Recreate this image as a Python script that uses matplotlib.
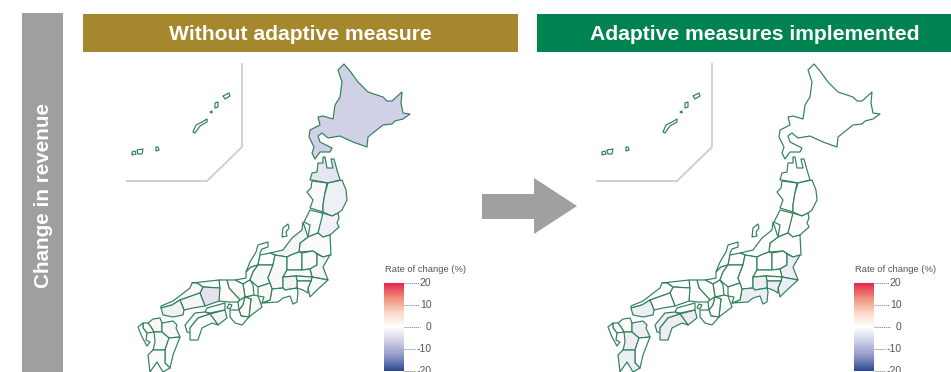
import numpy as np
import matplotlib
matplotlib.use("Agg")
import matplotlib.pyplot as plt
from matplotlib.colors import LinearSegmentedColormap

# outlines, in picture pixels
hokkaido = [(344,64),(350,71),(358,82),(368,92),(383,97),(387,101),(392,101),(402,92),(401,103),(403,113),(410,114),(403,119),(395,121),(392,124),(383,125),(368,137),(367,147),(353,142),(340,136),(328,138),(322,133),(318,136),(320,142),(332,148),(330,152),(320,152),(315,159),(312,153),(314,147),(309,137),(310,130),(320,125),(318,117),(323,116),(333,119),(335,105),(340,97),(342,82),(338,70)]
aomori = [(310,180),(312,173),(317,172),(318,163),(323,163),(323,157),(325,157),(327,168),(333,168),(331,159),(334,159),(337,170),(340,180),(328,183),(312,180)]
akita = [(312,181),(327,183),(325,193),(323,205),(323,212),(310,208),(313,200),(307,192),(311,188)]
iwate = [(328,183),(342,180),(346,190),(347,200),(342,210),(338,213),(332,216),(323,212),(323,205),(325,193)]
yamagata = [(310,210),(322,213),(323,217),(318,233),(308,237),(310,225),(304,222)]
miyagi = [(323,213),(332,216),(338,213),(339,218),(337,223),(339,227),(330,235),(323,237),(318,233)]
fukushima = [(308,237),(318,233),(323,237),(330,235),(331,255),(323,257),(313,251),(299,252),(300,243)]
niigata = [(303,222),(305,228),(308,237),(300,243),(299,252),(291,255),(287,257),(275,255),(270,253),(283,250),(292,238),(302,230)]
sado = [(283,228),(288,224),(289,228),(286,232),(287,236),(282,237)]
ishikawa = [(268,242),(268,247),(262,249),(260,253),(260,255),(258,265),(251,267),(246,272),(250,262),(256,252),(258,245)]
toyama = [(260,255),(270,253),(275,255),(273,265),(258,265)]
fukui = [(246,272),(251,267),(258,265),(253,272),(250,280),(243,284),(235,280),(241,279),(246,278)]
gifu = [(258,265),(273,265),(268,278),(270,283),(258,287),(250,280),(253,272)]
nagano = [(275,255),(287,257),(287,270),(283,277),(283,288),(272,289),(270,283),(268,278),(273,265)]
gunma = [(287,257),(291,255),(299,252),(302,253),(302,270),(287,270)]
tochigi = [(302,253),(313,251),(317,254),(317,265),(310,269),(302,270)]
ibaraki = [(317,254),(323,257),(330,255),(323,267),(328,280),(312,277),(310,269),(317,265)]
chiba = [(312,277),(328,280),(317,290),(310,297),(308,288),(311,281)]
saitama = [(287,270),(302,270),(310,269),(312,277),(296,276),(283,277)]
tokyo = [(296,276),(312,277),(311,281),(297,281)]
kanagawa = [(297,281),(311,281),(308,288),(308,293),(303,290),(297,288)]
yamanashi = [(283,277),(296,276),(297,281),(297,288),(285,290),(283,288)]
shizuoka = [(270,300),(272,289),(283,288),(285,290),(297,288),(298,292),(297,302),(293,304),(290,296),(283,298),(278,302),(262,303)]
aichi = [(258,287),(270,283),(272,289),(270,300),(262,303),(264,297),(258,296)]
mie = [(245,297),(254,295),(258,296),(262,307),(249,317),(250,307),(251,299)]
shiga = [(243,284),(250,280),(253,285),(254,295),(245,297)]
kyoto = [(227,280),(235,280),(243,284),(245,297),(240,300),(229,288)]
hyogo = [(219,280),(227,280),(229,288),(240,300),(238,302),(228,302),(219,301)]
osaka = [(238,302),(240,300),(245,297),(243,305),(239,310)]
nara = [(245,297),(251,299),(250,307),(249,317),(241,316),(239,310),(243,305)]
wakayama = [(230,310),(239,310),(241,316),(249,317),(242,325),(235,323),(230,317)]
awaji = [(229,304),(232,305),(230,309),(227,308)]
tottori = [(192,283),(219,280),(220,288),(203,287),(197,283)]
okayama = [(203,287),(220,288),(219,301),(205,306),(200,293)]
shimane = [(161,306),(173,301),(190,288),(192,283),(197,283),(203,287),(200,293),(180,300),(172,305),(161,308)]
hiroshima = [(180,300),(200,293),(205,306),(193,308),(184,310)]
yamaguchi = [(161,308),(172,305),(180,300),(184,310),(183,315),(173,317),(163,315)]
kagawa = [(207,308),(225,303),(225,310),(210,313),(205,312)]
tokushima = [(210,314),(225,310),(227,318),(218,325),(213,318)]
ehime = [(185,325),(195,313),(205,312),(210,314),(198,318),(190,328),(192,333),(187,332)]
kochi = [(190,328),(198,318),(210,314),(213,318),(218,325),(212,323),(202,328),(198,340),(190,340)]
fukuoka = [(148,323),(153,319),(160,318),(162,323),(162,332),(154,332),(151,327)]
oita = [(162,323),(173,321),(177,325),(176,328),(180,337),(169,338),(162,332)]
saga = [(143,323),(148,323),(151,327),(154,332),(147,333),(143,328)]
nagasaki = [(138,327),(143,323),(143,328),(147,333),(146,340),(150,342),(147,346),(142,337)]
kumamoto = [(154,332),(162,332),(169,338),(165,350),(153,350),(155,342)]
miyazaki = [(169,338),(180,337),(173,355),(170,368),(165,363),(165,350)]
kagoshima = [(153,350),(165,350),(165,363),(170,368),(163,372),(160,367),(157,362),(150,372),(148,355)]
amami_a = [(223,96),(229,93),(230,96),(225,99)]
amami_b = [(215,103),(218,102),(218,107),(215,108)]
amami_c = [(210,112),(212,111),(212,113)]
okinawa = [(193,132),(196,125),(202,122),(207,119),(207,122),(200,126),(195,133)]
saki_a = [(132,152),(135,151),(136,154),(132,155)]
saki_b = [(137,150),(143,149),(142,154),(138,154)]
saki_c = [(156,147),(158,147),(159,150),(156,151)]

regions = [hokkaido, aomori, akita, iwate, yamagata, miyagi, fukushima, niigata, sado,
           ishikawa, toyama, fukui, gifu, nagano, gunma, tochigi, ibaraki, chiba, saitama,
           tokyo, kanagawa, yamanashi, shizuoka, aichi, mie, shiga, kyoto, hyogo, osaka,
           nara, wakayama, awaji, tottori, okayama, shimane, hiroshima, yamaguchi, kagawa,
           tokushima, ehime, kochi, fukuoka, oita, saga, nagasaki, kumamoto, miyazaki,
           kagoshima, amami_a, amami_b, amami_c, okinawa, saki_a, saki_b, saki_c]

# rate of change per region, same order as regions
without_measure = [-6.5, -3.5, -0.8, -2.2, -0.5, -2.0, -0.5, -1.5, 0,
                   0, 0, 0, -1, -1, -0.5, -0.5, -1.5, -1, -1,
                   -1, 0, -2, 0, 1, 1, 0, 1, 0.5, 0,
                   0, 0, 0, -0.5, -4, -1, -1.5, -2, -1,
                   -1.5, -0.5, 0, 1.5, -1, 0, 0, -1, 0,
                   -0.5, 0, 0, 0, 0, 0, 0, 0]
with_measure = [0, 0, 0, 0, 0, 0, 0, 0, 0,
                0, 0, 0, 0, 0, 0, 0, -2.5, -2.5, 0,
                0, -2.5, -2.5, -2.5, 0, 0, 0, 0, 0, 0,
                0, 0, 0, 0, 0, 0, 0, -2.5, 0,
                -2.5, -2.5, -2.5, 0.7, -2.5, 0, 0, -2.5, 0,
                -2.5, 0, 0, 0, 0, 0, 0, 0]

tick_values = [20, 10, 0, -10, -20]
headers = ["Without adaptive measure", "Adaptive measures implemented"]
side_label = "Change in revenue"
legend_title = "Rate of change (%)"

plt.rcParams["font.family"] = ["Liberation Sans", "DejaVu Sans"]

cmap = LinearSegmentedColormap.from_list(
    "rate", ["#2d4a96", "#8f97c6", "#cfcfe6", "#ffffff", "#fbd9c8", "#ef8f78", "#e8264f"],
    N=256)
norm = plt.Normalize(-20, 20)

fig = plt.figure(figsize=(9.51, 3.72), dpi=100)
ax = fig.add_axes([0, 0, 1, 1])
ax.set_xlim(0, 951)
ax.set_ylim(372, 0)
ax.axis("off")

# side bar, banners, arrow
ax.fill([22, 63, 63, 22], [13, 13, 372, 372], color="#9e9f9f", lw=0)
ax.text(43.5, 195, side_label, rotation=90, ha="center", va="center", color="white",
        fontsize=14.9, fontweight="bold")
ax.fill([83, 518, 518, 83], [14, 14, 52, 52], color="#a5882d", lw=0)
ax.fill([537, 951, 951, 537], [14, 14, 52, 52], color="#008350", lw=0)
ax.text(300.5, 34, headers[0], ha="center", va="center", color="white", fontsize=15.2, fontweight="bold")
ax.text(754.5, 34, headers[1], ha="center", va="center", color="white", fontsize=15.2, fontweight="bold")
ax.fill([482, 534, 534, 577, 534, 534, 482], [194, 194, 178, 206, 234, 219, 219], color="#a0a19f", lw=0)


def draw_map(values, dx):
    # inset frame for the southern islands
    ax.plot([242+dx, 242+dx, 207+dx, 127+dx], [64, 147, 181, 181], color="#cccccc", lw=1.3)
    for poly, v in zip(regions, values):
        xs = [p[0]+dx for p in poly]
        ys = [p[1] for p in poly]
        ax.fill(xs, ys, facecolor=cmap(norm(v)), edgecolor="#2f7f5a", lw=0.85, joinstyle="round")

    # colour scale
    grad = np.linspace(20, -20, 200).reshape(-1, 1)
    ax.imshow(grad, cmap=cmap, norm=norm, extent=[384+dx, 404+dx, 371, 283], aspect="auto", zorder=2)
    ax.set_xlim(0, 951)
    ax.set_ylim(372, 0)
    ax.text(385+dx, 269, legend_title, ha="left", va="center", color="#555555", fontsize=6.75)
    for t in tick_values:
        y = 327 - t*2.2
        ax.plot([404+dx, 420+dx], [y, y], color="#777777", lw=0.7, ls=(0, (1, 1)))
        ax.text(431.5+dx, y, str(t), ha="right", va="center", color="#555555", fontsize=7.5,
                clip_on=True, bbox=dict(facecolor="white", edgecolor="none", pad=0.3))


draw_map(without_measure, 0)
draw_map(with_measure, 470)

fig.savefig("out.png", dpi=100)
